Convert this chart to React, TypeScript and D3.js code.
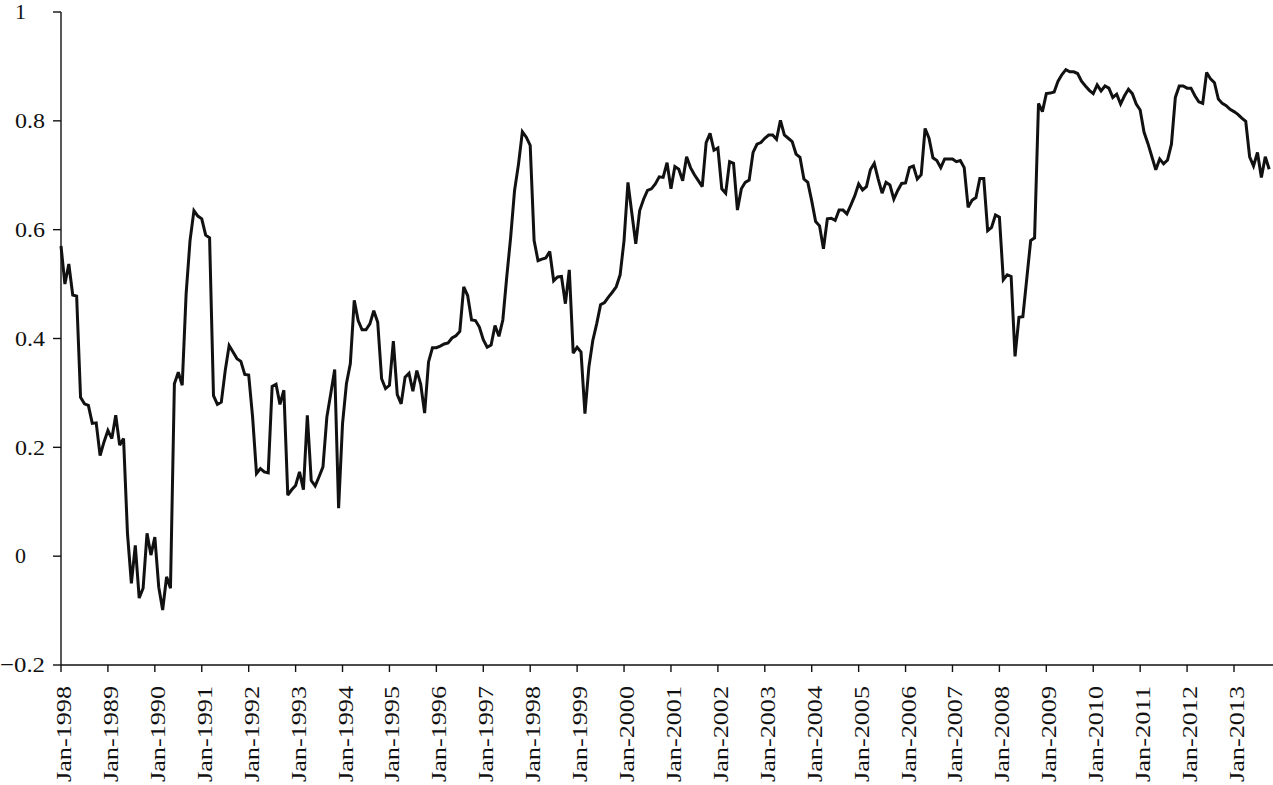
import React from "react";
import * as d3 from "d3";

// Monthly values, Jan-1988 .. Oct-2013
const values: number[] = [
  0.57, 0.5, 0.537, 0.48, 0.478, 0.292, 0.28, 0.277, 0.244, 0.245, 0.185, 0.21,
  0.231, 0.216, 0.259, 0.204, 0.216, 0.042, -0.05, 0.02, -0.077, -0.059, 0.042, 0.002,
  0.035, -0.057, -0.099, -0.038, -0.059, 0.317, 0.338, 0.314, 0.482, 0.58, 0.635, 0.625,
  0.62, 0.59, 0.585, 0.295, 0.279, 0.283, 0.341, 0.387, 0.375, 0.363, 0.358, 0.334,
  0.333, 0.256, 0.152, 0.161, 0.155, 0.153, 0.312, 0.316, 0.279, 0.305, 0.112, 0.122,
  0.13, 0.155, 0.122, 0.259, 0.139, 0.129, 0.146, 0.164, 0.256, 0.299, 0.343, 0.088,
  0.243, 0.317, 0.354, 0.47, 0.433, 0.416, 0.416, 0.427, 0.451, 0.43, 0.326, 0.308,
  0.314, 0.395, 0.297, 0.28, 0.329, 0.336, 0.303, 0.341, 0.316, 0.263, 0.357, 0.383,
  0.383, 0.386, 0.39, 0.392, 0.401, 0.405, 0.413, 0.495, 0.479, 0.434, 0.433, 0.421,
  0.398, 0.384, 0.388, 0.424, 0.404, 0.434, 0.513, 0.586, 0.672, 0.72, 0.78, 0.77,
  0.755, 0.58, 0.543, 0.546, 0.548, 0.56, 0.506, 0.513, 0.514, 0.464, 0.526, 0.373,
  0.384, 0.375, 0.262, 0.347, 0.396, 0.427, 0.462, 0.466, 0.476, 0.485, 0.495, 0.517,
  0.58, 0.687, 0.63, 0.574, 0.635, 0.656, 0.672, 0.675, 0.684, 0.697, 0.696, 0.723,
  0.675, 0.716, 0.711, 0.69, 0.734, 0.714, 0.701, 0.69, 0.679, 0.76, 0.777, 0.746,
  0.75, 0.675, 0.667, 0.725, 0.722, 0.636, 0.675, 0.687, 0.691, 0.742, 0.757, 0.76,
  0.768, 0.774, 0.774, 0.766, 0.801, 0.774, 0.768, 0.762, 0.739, 0.733, 0.693, 0.687,
  0.653, 0.615, 0.607, 0.565, 0.62, 0.621, 0.617, 0.636, 0.636, 0.629, 0.645, 0.662,
  0.684, 0.673, 0.679, 0.71, 0.722, 0.693, 0.667, 0.687, 0.682, 0.656, 0.672, 0.685,
  0.686, 0.714, 0.717, 0.693, 0.701, 0.786, 0.768, 0.732, 0.727, 0.714, 0.73, 0.73,
  0.73, 0.725, 0.727, 0.714, 0.641, 0.654, 0.659, 0.694, 0.694, 0.598, 0.604, 0.627,
  0.623, 0.508, 0.517, 0.514, 0.367, 0.439, 0.44, 0.51, 0.58, 0.585, 0.832, 0.817,
  0.85, 0.851, 0.853, 0.873, 0.885, 0.894, 0.89, 0.89, 0.887, 0.873, 0.864, 0.856,
  0.85, 0.866, 0.855, 0.864, 0.86, 0.843, 0.849, 0.831, 0.846, 0.858, 0.85, 0.831,
  0.82, 0.779, 0.758, 0.734, 0.71, 0.73, 0.721, 0.728, 0.757, 0.843, 0.864, 0.864,
  0.86, 0.86, 0.846, 0.835, 0.832, 0.889, 0.877, 0.87, 0.84, 0.832, 0.828, 0.821,
  0.817, 0.812, 0.805, 0.799, 0.734, 0.717, 0.742, 0.696, 0.734, 0.711,
];

const xTickLabels: string[] = [
  "Jan-1998", "Jan-1989", "Jan-1990", "Jan-1991", "Jan-1992", "Jan-1993",
  "Jan-1994", "Jan-1995", "Jan-1996", "Jan-1997", "Jan-1998", "Jan-1999",
  "Jan-2000", "Jan-2001", "Jan-2002", "Jan-2003", "Jan-2004", "Jan-2005",
  "Jan-2006", "Jan-2007", "Jan-2008", "Jan-2009", "Jan-2010", "Jan-2011",
  "Jan-2012", "Jan-2013",
];

const yTicks: number[] = [-0.2, 0, 0.2, 0.4, 0.6, 0.8, 1];
const yTickLabels: string[] = ["\u22120.2", "0", "0.2", "0.4", "0.6", "0.8", "1"];

const W = 1273;
const H = 785;
const FONT = "'Liberation Serif', 'Times New Roman', serif";

export default function App() {
  const n = values.length;
  const x = d3.scaleLinear().domain([0, n - 1]).range([61, 61 + (n - 1) * 3.91]);
  const y = d3.scaleLinear().domain([-0.2, 1]).range([665, 12]);
  const line = d3
    .line<number>()
    .x((_, i) => x(i))
    .y((d) => y(d));

  return (
    <svg
      width={W}
      height={H}
      style={{ position: "absolute", left: 0, top: 0, display: "block", background: "#fff" }}
      fontFamily={FONT}
    >
      <rect x={0} y={0} width={W} height={H} fill="#fff" />
      {/* Y axis */}
      <line x1={61} x2={61} y1={y(1)} y2={665} stroke="#111" strokeWidth={1.4} />
      {yTicks.map((t, i) => {
        const label = yTickLabels[i];
        const neg = t < 0;
        const dec = label.includes(".");
        return (
          <g key={"y" + i}>
            <line x1={53} x2={61} y1={y(t)} y2={y(t)} stroke="#111" strokeWidth={1.4} />
            <text
              x={neg ? 45 : 15}
              y={y(t)}
              dy="0.33em"
              fontSize={22}
              fill="#111"
              textAnchor={neg ? "end" : "start"}
              {...(dec ? { textLength: neg ? 45 : 30, lengthAdjust: "spacingAndGlyphs" } : {})}
            >
              {label}
            </text>
          </g>
        );
      })}
      {/* X axis */}
      <line x1={61} x2={W} y1={665} y2={665} stroke="#111" strokeWidth={1.4} />
      {xTickLabels.map((lab, k) => {
        const tx = x(k * 12);
        return (
          <g key={"x" + k}>
            <line x1={tx} x2={tx} y1={665} y2={672} stroke="#111" strokeWidth={1.4} />
            <text
              transform={`translate(${tx + 10},686) rotate(-90)`}
              textAnchor="end"
              fontSize={20}
              fill="#111"
              textLength={96}
              lengthAdjust="spacingAndGlyphs"
            >
              {lab}
            </text>
          </g>
        );
      })}
      {/* Series */}
      <path
        d={line(values) || ""}
        fill="none"
        stroke="#111"
        strokeWidth={3}
        strokeLinejoin="miter"
        strokeMiterlimit={3}
      />
    </svg>
  );
}
